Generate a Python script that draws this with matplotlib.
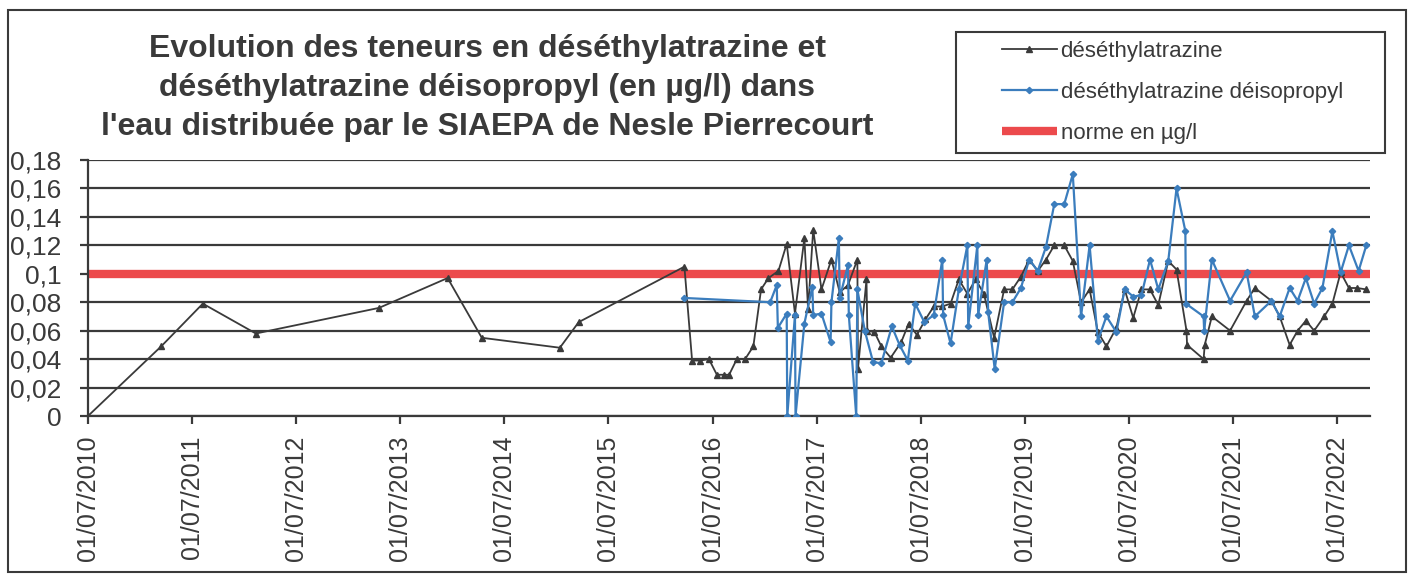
import numpy as np
import pandas as pd
import matplotlib
matplotlib.use("Agg")
import matplotlib.pyplot as plt
from matplotlib.patches import Rectangle

plt.rcParams["font.family"] = ["Liberation Sans", "DejaVu Sans"]

# déséthylatrazine (lecture du graphique)
dates_deset = [
    "2010-07-01", "2011-03-15", "2011-08-08", "2012-02-10", "2013-04-17",
    "2013-12-14", "2014-04-13", "2015-01-12", "2015-03-19", "2016-03-24",
    "2016-04-20", "2016-05-19", "2016-06-18", "2016-07-16", "2016-08-09",
    "2016-08-28", "2016-09-24", "2016-10-23", "2016-11-21", "2016-12-18",
    "2017-01-13", "2017-02-17", "2017-03-18", "2017-04-16", "2017-05-19",
    "2017-06-01", "2017-06-19", "2017-07-18", "2017-08-22", "2017-09-20",
    "2017-10-19", "2017-11-21", "2017-11-23", "2017-12-23", "2017-12-26",
    "2018-01-20", "2018-02-13", "2018-03-18", "2018-04-24", "2018-05-20",
    "2018-06-18", "2018-07-18", "2018-08-16", "2018-09-15", "2018-10-14",
    "2018-11-12", "2018-12-12", "2019-01-10", "2019-02-08", "2019-03-16",
    "2019-04-20", "2019-05-19", "2019-06-18", "2019-07-17", "2019-08-16",
    "2019-09-14", "2019-10-13", "2019-11-17", "2019-12-17", "2020-01-15",
    "2020-02-14", "2020-03-14", "2020-04-13", "2020-05-18", "2020-06-16",
    "2020-07-16", "2020-08-14", "2020-09-13", "2020-10-12", "2020-11-16",
    "2020-12-15", "2021-01-19", "2021-01-21", "2021-03-20", "2021-03-24",
    "2021-04-18", "2021-06-21", "2021-08-18", "2021-09-16", "2021-11-13",
    "2021-12-12", "2022-01-16", "2022-02-13", "2022-03-14", "2022-04-12",
    "2022-05-17", "2022-06-15", "2022-07-14", "2022-08-12", "2022-09-10",
    "2022-10-12",
]
val_deset = [
    0.000, 0.049, 0.079, 0.058, 0.076,
    0.097, 0.055, 0.048, 0.066, 0.105,
    0.039, 0.039, 0.040, 0.029, 0.029,
    0.029, 0.040, 0.040, 0.049, 0.089,
    0.097, 0.102, 0.121, 0.072, 0.125,
    0.075, 0.131, 0.089, 0.110, 0.087,
    0.092, 0.110, 0.033, 0.096, 0.060,
    0.059, 0.049, 0.041, 0.052, 0.065,
    0.057, 0.068, 0.077, 0.077, 0.079,
    0.096, 0.086, 0.096, 0.086, 0.055,
    0.089, 0.089, 0.098, 0.110, 0.102,
    0.110, 0.120, 0.120, 0.109, 0.080,
    0.089, 0.059, 0.049, 0.062, 0.089,
    0.069, 0.089, 0.089, 0.078, 0.109,
    0.103, 0.060, 0.050, 0.040, 0.050,
    0.070, 0.060, 0.081, 0.090, 0.081,
    0.070, 0.050, 0.060, 0.067, 0.060,
    0.070, 0.079, 0.101, 0.090, 0.090,
    0.089,
]

# déséthylatrazine déisopropyl
dates_deiso = [
    "2016-03-24", "2017-01-19", "2017-02-11", "2017-02-15", "2017-03-18",
    "2017-03-20", "2017-04-16", "2017-04-18", "2017-05-19", "2017-06-16",
    "2017-06-19", "2017-07-18", "2017-08-19", "2017-08-22", "2017-09-17",
    "2017-09-20", "2017-10-19", "2017-10-22", "2017-11-17", "2017-11-21",
    "2017-12-17", "2018-01-15", "2018-02-13", "2018-03-22", "2018-04-18",
    "2018-05-17", "2018-06-12", "2018-07-14", "2018-08-16", "2018-09-15",
    "2018-09-18", "2018-10-14", "2018-11-12", "2018-12-12", "2018-12-15",
    "2019-01-16", "2019-01-19", "2019-02-18", "2019-02-23", "2019-03-18",
    "2019-04-20", "2019-05-19", "2019-06-18", "2019-07-17", "2019-08-16",
    "2019-09-14", "2019-10-13", "2019-11-17", "2019-12-17", "2020-01-15",
    "2020-02-14", "2020-03-14", "2020-04-13", "2020-05-18", "2020-06-16",
    "2020-07-16", "2020-08-14", "2020-09-13", "2020-10-12", "2020-11-16",
    "2020-12-15", "2021-01-15", "2021-01-17", "2021-03-20", "2021-03-22",
    "2021-04-18", "2021-06-21", "2021-08-18", "2021-09-16", "2021-11-13",
    "2021-12-12", "2022-01-16", "2022-02-13", "2022-03-14", "2022-04-12",
    "2022-05-11", "2022-06-15", "2022-07-14", "2022-08-12", "2022-09-15",
    "2022-10-12",
]
val_deiso = [
    0.083, 0.080, 0.092, 0.062, 0.072,
    0.000, 0.071, 0.000, 0.065, 0.091,
    0.071, 0.072, 0.052, 0.080, 0.125,
    0.083, 0.106, 0.071, 0.000, 0.089,
    0.060, 0.038, 0.037, 0.063, 0.050,
    0.039, 0.079, 0.066, 0.071, 0.110,
    0.071, 0.051, 0.089, 0.120, 0.063,
    0.120, 0.071, 0.110, 0.073, 0.033,
    0.080, 0.080, 0.090, 0.110, 0.102,
    0.119, 0.149, 0.149, 0.170, 0.070,
    0.120, 0.053, 0.070, 0.059, 0.089,
    0.084, 0.085, 0.110, 0.089, 0.109,
    0.160, 0.130, 0.079, 0.070, 0.060,
    0.110, 0.081, 0.101, 0.070, 0.081,
    0.070, 0.090, 0.081, 0.097, 0.079,
    0.090, 0.130, 0.101, 0.120, 0.102,
    0.120,
]

norme = 0.1
norme_dates = ["2010-07-01", "2022-10-25"]

y_ticks = [0, 0.02, 0.04, 0.06, 0.08, 0.1, 0.12, 0.14, 0.16, 0.18]
y_labels = ["0", "0,02", "0,04", "0,06", "0,08", "0,1", "0,12", "0,14", "0,16", "0,18"]
x_ticks = ["%d-07-01" % a for a in range(2010, 2023)]
x_labels = ["01/07/%d" % a for a in range(2010, 2023)]

titre = ("Evolution des teneurs en déséthylatrazine et\n"
         "déséthylatrazine déisopropyl (en µg/l) dans\n"
         "l'eau distribuée par le SIAEPA de Nesle Pierrecourt")

gris = "#3a3a3a"
bleu = "#3b7dbd"
rouge = "#ec4a4c"

W, H = 1413, 574
fig = plt.figure(figsize=(W / 100, H / 100), dpi=100)
ax = fig.add_axes([88 / W, 1 - 416 / H, (1370 - 88) / W, (416 - 160) / H])

# cadre de la zone de graphique
fig.patches.append(Rectangle((8 / W, 1 - 572 / H), 1398 / W, 562 / H,
                             transform=fig.transFigure, fill=False,
                             edgecolor=gris, linewidth=1.5))
# cadre de la légende
fig.patches.append(Rectangle((956 / W, 1 - 153 / H), 429 / W, 121 / H,
                             transform=fig.transFigure, fill=False,
                             edgecolor=gris, linewidth=1.5))

ax.plot(pd.to_datetime(norme_dates), [norme, norme], color=rouge, linewidth=6,
        solid_capstyle="butt", label="norme en µg/l", zorder=2)
ax.plot(pd.to_datetime(dates_deset), val_deset, color=gris, linewidth=1.3,
        marker="^", markersize=4, label="déséthylatrazine", zorder=3)
ax.plot(pd.to_datetime(dates_deiso), val_deiso, color=bleu, linewidth=1.6,
        marker="D", markersize=3.2, label="déséthylatrazine déisopropyl", zorder=4)

ax.set_xlim(pd.Timestamp("2010-07-01"), pd.Timestamp("2022-10-25"))
ax.set_ylim(0, 0.18)
ax.set_yticks(y_ticks)
ax.set_yticklabels(y_labels)
ax.set_xticks(pd.to_datetime(x_ticks))
ax.set_xticklabels(x_labels, rotation=90)
ax.grid(axis="y", color=gris, linewidth=1.6)
ax.set_axisbelow(True)
for s in ["top", "right"]:
    ax.spines[s].set_visible(False)
for s in ["left", "bottom"]:
    ax.spines[s].set_color(gris)
    ax.spines[s].set_linewidth(1.6)
ax.tick_params(axis="y", length=6, width=1.6, color=gris, pad=13,
               labelsize=19, labelcolor=gris)
ax.tick_params(axis="x", length=6, width=1.6, color=gris, pad=8,
               labelsize=18, labelcolor=gris)

fig.text(0.345, 0.847, titre, ha="center", va="center", fontsize=23,
         fontweight="bold", color=gris, linespacing=1.38)

h, l = ax.get_legend_handles_labels()
ordre = [1, 2, 0]
leg = fig.legend([h[i] for i in ordre], [l[i] for i in ordre],
                 loc="upper left", bbox_to_anchor=(995 / W, 1 - 34 / H),
                 frameon=False, fontsize=16, labelspacing=0.9,
                 handlelength=2.5, handletextpad=0.15, borderpad=0.3,
                 borderaxespad=0)
for t in leg.get_texts():
    t.set_color(gris)

fig.savefig("out.png", dpi=100)
